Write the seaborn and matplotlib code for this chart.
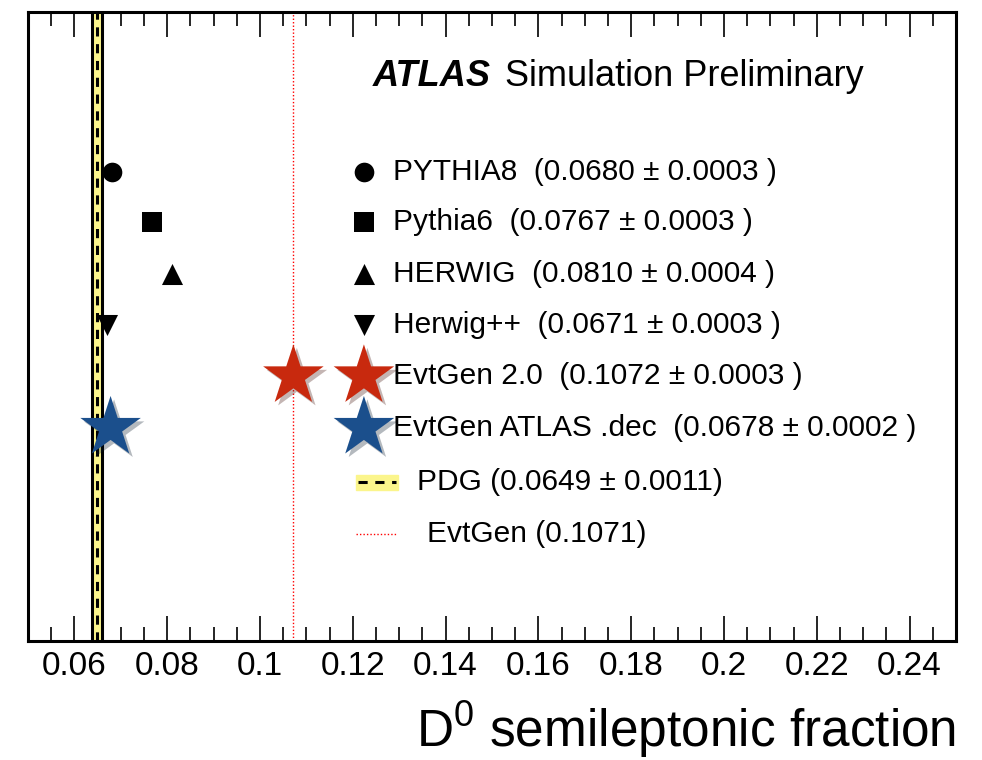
import numpy as np
import pandas as pd
import matplotlib
matplotlib.use("Agg")
import matplotlib.pyplot as plt
import matplotlib.patheffects as pe
from matplotlib.ticker import MultipleLocator, FuncFormatter
import seaborn as sns

# data
generators = ["PYTHIA8", "Pythia6", "HERWIG", "Herwig++", "EvtGen 2.0", "EvtGen ATLAS .dec"]
fractions = [0.0680, 0.0767, 0.0810, 0.0671, 0.1072, 0.0678]
errors = [0.0003, 0.0003, 0.0004, 0.0003, 0.0003, 0.0002]
pdg_value = 0.0649
pdg_error = 0.0011
evtgen_ref = 0.1071

# style per generator
markers = {"PYTHIA8": "o", "Pythia6": "s", "HERWIG": "^", "Herwig++": "v",
           "EvtGen 2.0": "*", "EvtGen ATLAS .dec": "*"}
colors = {"PYTHIA8": "black", "Pythia6": "black", "HERWIG": "black", "Herwig++": "black",
          "EvtGen 2.0": "#c8290e", "EvtGen ATLAS .dec": "#1b4f8c"}
sizes = {"PYTHIA8": 200, "Pythia6": 200, "HERWIG": 230, "Herwig++": 230,
         "EvtGen 2.0": 2100, "EvtGen ATLAS .dec": 2100}

# layout: vertical row positions (axes fraction) shared by points and legend
row_y = [0.745, 0.666, 0.584, 0.503, 0.421, 0.339, 0.252, 0.170]

sns.set_theme(style="white")
plt.rcParams["font.family"] = ["Liberation Sans", "DejaVu Sans"]
plt.rcParams["text.color"] = "black"
plt.rcParams["axes.labelcolor"] = "black"
plt.rcParams["xtick.color"] = "black"
plt.rcParams["mathtext.fontset"] = "custom"
plt.rcParams["mathtext.rm"] = "Liberation Sans"
plt.rcParams["mathtext.default"] = "rm"

fig = plt.figure(figsize=(9.82, 7.6), dpi=100)
ax = fig.add_axes([0.0285, 0.1566, 0.945, 0.8276])

df = pd.DataFrame({"generator": generators, "fraction": fractions,
                   "row": row_y[:len(generators)]})

shadow = [pe.SimplePatchShadow(offset=(2.5, -2.5), alpha=0.3), pe.Normal()]

# PDG band and the EvtGen reference line
ax.axvspan(pdg_value - pdg_error, pdg_value + pdg_error, color="#fbf58c", zorder=1)
for edge in (pdg_value - pdg_error, pdg_value + pdg_error):
    ax.axvline(edge, color="black", lw=2.2, zorder=2)
ax.axvline(pdg_value, color="black", lw=2.2, ls=(0, (3, 2.5)), zorder=3)
ax.axvline(evtgen_ref, color="red", lw=1.0, ls=(0, (1, 1.5)), zorder=2)

# generator points
for _, r in df.iterrows():
    g = r["generator"]
    sns.scatterplot(x=[r["fraction"]], y=[r["row"]], ax=ax, marker=markers[g],
                    color=colors[g], s=sizes[g], linewidth=0, zorder=5, legend=False)
    if markers[g] == "*":
        ax.collections[-1].set_path_effects(shadow)

ax.set_xlim(0.05, 0.25)
ax.set_ylim(0, 1)
ax.set_yticks([])
ax.set_ylabel("")

ax.xaxis.set_major_locator(MultipleLocator(0.02))
ax.xaxis.set_minor_locator(MultipleLocator(0.005))
ax.xaxis.set_major_formatter(FuncFormatter(lambda v, p: f"{v:g}"))
ax.tick_params(axis="x", which="major", direction="in", length=18, width=1.2,
               top=True, bottom=True, labelsize=24, pad=7, colors="black")
ax.tick_params(axis="x", which="minor", direction="in", length=10, width=1.2,
               top=True, bottom=True)
for s in ax.spines.values():
    s.set_visible(True)
    s.set_color("black")
    s.set_linewidth(2.2)

ax.set_xlabel("D$^{0}$ semileptonic fraction", loc="right", fontsize=37, labelpad=13,
              color="black")

# ATLAS label
ax.text(0.372, 0.898, "ATLAS", transform=ax.transAxes, fontsize=26, fontweight="bold",
        fontstyle="italic", va="center", ha="left")
ax.text(0.514, 0.898, "Simulation Preliminary", transform=ax.transAxes, fontsize=26,
        va="center", ha="left")

# hand made legend
leg_x = 0.362
txt_x = 0.393
for i, g in enumerate(generators):
    sns.scatterplot(x=[leg_x], y=[row_y[i]], ax=ax, marker=markers[g], color=colors[g],
                    s=sizes[g], linewidth=0, zorder=6, legend=False,
                    transform=ax.transAxes, clip_on=False)
    if markers[g] == "*":
        ax.collections[-1].set_path_effects(shadow)
    ax.text(txt_x, row_y[i], f"{g}  ({fractions[i]:.4f} \u00b1 {errors[i]:.4f} )",
            transform=ax.transAxes, fontsize=21.5, va="center", ha="left", zorder=7)

# PDG legend entry
ax.add_patch(plt.Rectangle((0.354, row_y[6] - 0.012), 0.045, 0.024, transform=ax.transAxes,
                           color="#fbf58c", zorder=5))
ax.plot([0.356, 0.397], [row_y[6]] * 2, transform=ax.transAxes, color="black", lw=2.2,
        ls=(0, (3, 2.5)), zorder=6)
ax.text(0.419, row_y[6], f"PDG ({pdg_value:.4f} \u00b1 {pdg_error:.4f})",
        transform=ax.transAxes, fontsize=21.5, va="center", ha="left")

# EvtGen reference legend entry
ax.plot([0.354, 0.397], [row_y[7]] * 2, transform=ax.transAxes, color="red", lw=1.0,
        ls=(0, (1, 1.5)), zorder=6)
ax.text(0.43, row_y[7], f"EvtGen ({evtgen_ref:.4f})", transform=ax.transAxes,
        fontsize=21.5, va="center", ha="left")

fig.savefig("out.png", dpi=100, facecolor="white")
